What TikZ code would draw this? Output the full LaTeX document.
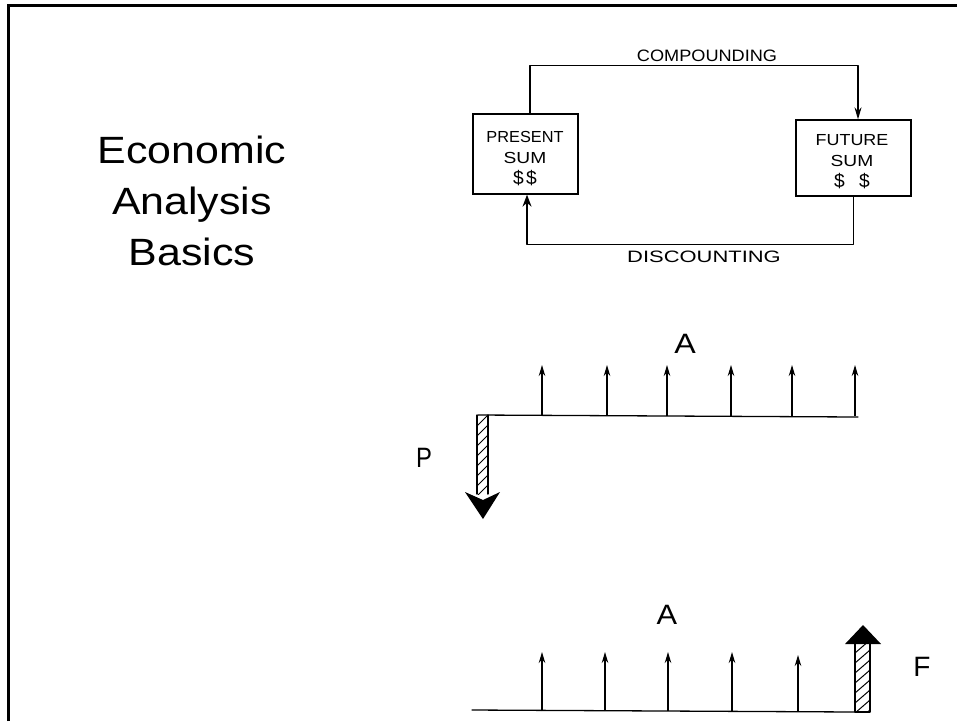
\documentclass[tikz,border=0pt]{standalone}
\usepackage{fontspec}
\usepackage{graphicx}
\setmainfont{Liberation Sans}
\newfontfamily\titlefont[FakeStretch=1.13]{Liberation Sans}
\newfontfamily\handfont{Liberation Sans}
\usetikzlibrary{arrows.meta}
\begin{document}
\begin{tikzpicture}[x=1pt,y=-1pt,
  titletext/.style={font=\titlefont\fontsize{38}{40}\selectfont, anchor=base, inner sep=0pt},
  handlbl/.style={font=\handfont\fontsize{16.5}{18}\selectfont, inner sep=0pt},
  boxtext/.style={font=\handfont\fontsize{16}{21}\selectfont, align=center, inner sep=0pt},
  bigletter/.style={font=\handfont\fontsize{28}{30}\selectfont, inner sep=0pt},
  sumbox/.style={draw, line width=1.3pt, inner sep=0pt},
  pen/.style={line width=1.3pt, line cap=round, line join=round},
  flowarrow/.style={line width=1.1pt, -{Stealth[length=11pt,width=6.5pt]}},
  hatch/.style={line width=1pt},
  frameline/.style={line width=3pt}]
\useasboundingbox (0,0) rectangle (957,721);
% slide frame
\draw[frameline] (8,721) -- (8,5.5) -- (957,5.5);
% title
\node[titletext] (title1) at (192,163) {Economic};
\node[titletext] (title2) at (192,214) {Analysis};
\node[titletext] (title3) at (192,265) {Basics};
% boxes
\node[sumbox, minimum width=105pt, minimum height=80pt] (present) at (525.5,154) {};
\node[boxtext] (presenttxt) at (525,159) {\scalebox{1.02}[1]{PRESENT}\\\scalebox{1.2}[1]{SUM}\\\scalebox{1.2}{\$\hspace{2pt}\$}};
\node[sumbox, minimum width=115pt, minimum height=76pt] (future) at (853.5,158) {};
\node[boxtext] (futuretxt) at (852,162) {\scalebox{1.12}[1]{FUTURE}\\\scalebox{1.2}[1]{SUM}\\\scalebox{1.2}{\$\hspace{12pt}\$}};
% compounding / discounting
\draw[pen, -{Stealth[length=12pt,width=7pt]}] ([xshift=4.5pt]present.north) -- ++(0,-48) -| ([xshift=4.5pt]future.north);
\draw[pen, -{Stealth[length=12pt,width=9pt]}] (future.south) -- ++(0,48) -| ([xshift=1.5pt]present.south);
\node[handlbl] (comp) at (707,56) {\scalebox{1.1}[1]{COMPOUNDING}};
\node[handlbl] (disc) at (704,257) {\scalebox{1.33}[1]{DISCOUNTING}};
% first cash flow diagram
\coordinate (line1s) at (478,415);
\coordinate (line1e) at (858,417);
\draw[pen] (line1s) -- (line1e);
\foreach \x/\n in {542/1,607/2,667/3,731/4,792/5,855/6}{
  \coordinate (ua\n) at (\x,416);
  \coordinate (ta\n) at (\x,365);
  \draw[flowarrow] (ua\n) -- (ta\n);
}
\node[bigletter] (labelA1) at (685,344) {\scalebox{1.15}[1]{A}};
\node[bigletter] (labelP) at (424,458) {\scalebox{0.85}[1]{P}};
% P hatched arrow
\draw[pen] (477,415) -- (477,494) (488,415) -- (488,494);
\begin{scope}
  \clip (477,415) rectangle (488,494);
  \foreach \y in {405,415,...,505}{ \draw[hatch] (477,\y+11) -- (488,\y); }
\end{scope}
\fill (465,492) -- (483,500) -- (500,492) -- (483,519) -- cycle;
% second cash flow diagram
\coordinate (line2s) at (472,710);
\coordinate (line2e) at (856,712);
\draw[pen] (line2s) -- (line2e);
\foreach \x/\t/\n in {542/652/1,605/652/2,668/652/3,732/652/4,798/655/5}{
  \coordinate (ub\n) at (\x,711);
  \coordinate (tb\n) at (\x,\t);
  \draw[flowarrow] (ub\n) -- (tb\n);
}
\node[bigletter] (labelA2) at (667,615) {\scalebox{1.1}[1]{A}};
\node[bigletter] (labelF) at (922,667) {F};
% F hatched arrow
\draw[pen] (855,644) -- (855,712) -- (870,712) -- (870,644);
\begin{scope}
  \clip (855,644) rectangle (870,712);
  \foreach \y in {630,640,...,720}{ \draw[hatch] (855,\y+13) -- (870,\y); }
\end{scope}
\fill[line join=round] (845,644) -- (881,644) -- (863,625) -- cycle;
\end{tikzpicture}
\end{document}
